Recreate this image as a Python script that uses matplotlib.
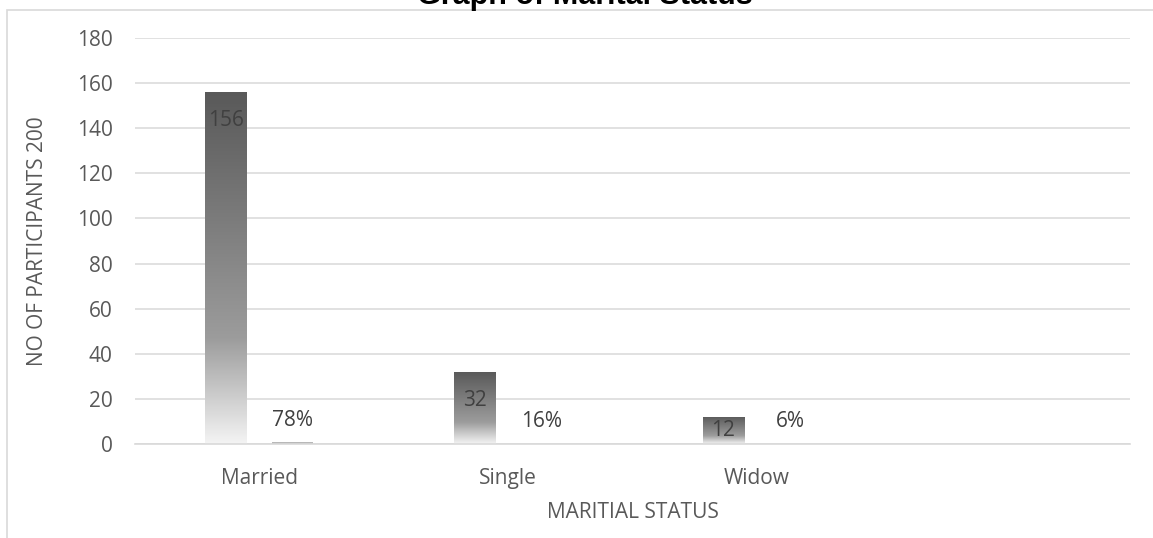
import numpy as np
import matplotlib
matplotlib.use('Agg')
import matplotlib.pyplot as plt
from matplotlib.colors import LinearSegmentedColormap
from matplotlib.patches import Rectangle

# data
categories = ['Married', 'Single', 'Widow', '']
counts = [156, 32, 12, 0]
shares = [0.78, 0.16, 0.06, 0]
share_labels = ['78%', '16%', '6%', '']

plt.rcParams['font.family'] = ['Open Sans', 'DejaVu Sans']
txt = '#595959'
fs = 15

fig = plt.figure(figsize=(11.53, 5.38), dpi=100)
ax = fig.add_axes([135/1153, 1-444/538, 995/1153, 406/538])

# chart frame (Excel style border, runs off the picture)
fig.patches.append(Rectangle((7/1153, -0.2), 1.2, 1.2 - 10/538,
                             transform=fig.transFigure, fill=False,
                             edgecolor='#d9d9d9', lw=1.2, clip_on=False))

# title sits partly above the top edge, as in the source image
fig.text(585/1153, 1-4/538, 'Graph of Marital Status', ha='center', va='baseline',
         fontsize=22, fontweight='bold', family='Liberation Sans', color='black')

cmap = LinearSegmentedColormap.from_list('g', [(0, '#f4f4f4'), (0.3, '#9c9c9c'), (1, '#595959')])
grad = np.linspace(0, 1, 256).reshape(-1, 1)

x = np.arange(len(categories))
w = 0.165
off = 0.135
ymax = 180

for i in range(len(categories)):
    # count bar with gradient fill
    if counts[i] > 0:
        r = Rectangle((x[i] - off - w/2, 0), w, counts[i], facecolor='none', edgecolor='none')
        ax.add_patch(r)
        im = ax.imshow(grad, cmap=cmap, origin='lower', aspect='auto',
                       extent=(x[i] - off - w/2, x[i] - off + w/2, 0, counts[i]), zorder=2)
        im.set_clip_path(r)
        ypos = max(counts[i] - 12.5, counts[i] / 2)
        ax.text(x[i] - off, ypos, str(counts[i]), ha='center', va='center',
                fontsize=fs, color='#404040', zorder=3)
    if shares[i] > 0:
        ax.bar(x[i] + off, shares[i], width=w, color='#b8b8b8', zorder=2)
        ax.annotate(share_labels[i], (x[i] + off, shares[i]), xytext=(0, 16),
                    textcoords='offset points', ha='center', va='center',
                    fontsize=fs, color='#404040')

ax.set_xlim(-0.5, len(categories) - 0.5)
ax.set_ylim(0, ymax)
ax.set_yticks(np.arange(0, 181, 20))
ax.set_xticks(x)
ax.set_xticklabels(categories)
ax.grid(axis='y', color='#dcdcdc', lw=1.2, zorder=0)
ax.set_axisbelow(True)
for s in ['top', 'right', 'left']:
    ax.spines[s].set_visible(False)
ax.spines['bottom'].set_color('#d9d9d9')
ax.spines['bottom'].set_linewidth(1.2)
ax.tick_params(length=0, labelsize=fs, labelcolor=txt)
ax.tick_params(axis='y', pad=16)
ax.tick_params(axis='x', pad=17)

ax.set_ylabel('NO OF PARTICIPANTS 200', fontsize=fs, color=txt, labelpad=21)
ax.set_xlabel('MARITIAL STATUS', fontsize=fs, color=txt, labelpad=10)

plt.savefig('out.png', dpi=100)
